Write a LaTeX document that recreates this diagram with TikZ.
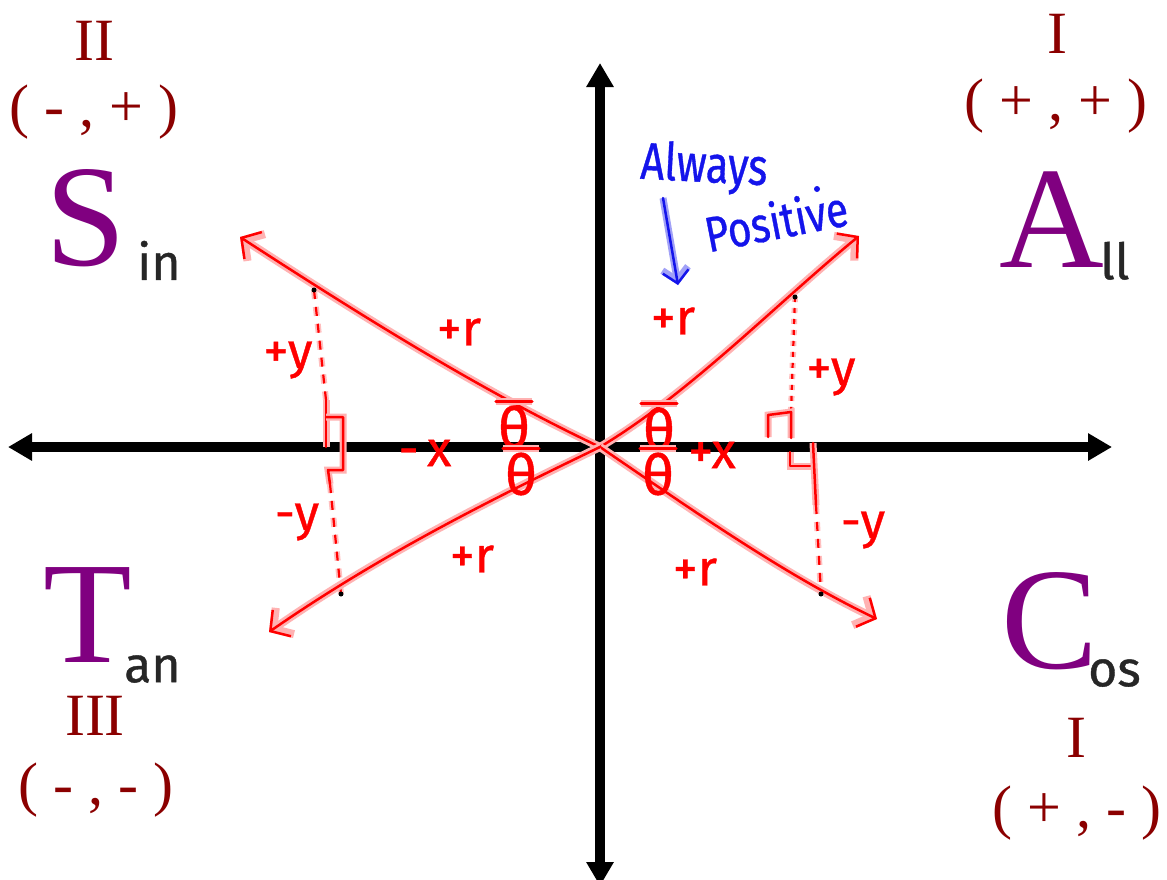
\documentclass[tikz,border=0pt]{standalone}
\usepackage{fontspec}
\setmainfont{Liberation Serif}
\newfontfamily\hand[FakeBold=0.8]{Fira Sans}
\usetikzlibrary{arrows.meta}
\definecolor{dred}{RGB}{139,0,0}
\definecolor{purp}{RGB}{128,0,128}
\definecolor{pblue}{RGB}{20,20,235}
\tikzset{
  quad/.style={text=dred, font=\fontsize{60}{60}\selectfont, inner sep=0, anchor=base},
  big/.style={text=purp, font=\fontsize{145}{145}\selectfont, inner sep=0, anchor=base},
  sub/.style={text=black!85, font=\hand\fontsize{50}{50}\selectfont, inner sep=0},
  lab/.style={text=red, font=\hand\fontsize{50}{50}\selectfont, inner sep=0},
  thl/.style={text=red, font=\hand\fontsize{56}{56}\selectfont, inner sep=0},
  blab/.style={text=pblue, font=\hand\fontsize{52}{52}\selectfont, inner sep=0},
  axis/.style={line width=9.5pt, {Triangle[length=24pt,width=26pt]}-{Triangle[length=24pt,width=26pt]}},
  ray/.style={draw=red, line width=2.5pt, line cap=round, line join=round,
    preaction={draw=red!30, line width=8pt},
    -{Straight Barb[length=14pt,width=32pt]}},
  redmark/.style={draw=red, line width=2.5pt, line cap=round, line join=round,
    preaction={draw=red!30, line width=7pt}},
  dashline/.style={draw=red, line width=2.2pt, dash pattern=on 9pt off 8pt,
    preaction={draw=red!25, line width=6pt, dash pattern=on 9pt off 8pt}},
  dotline/.style={draw=red, line width=2.2pt, dash pattern=on 5pt off 6pt,
    preaction={draw=red!25, line width=6pt, dash pattern=on 5pt off 6pt}},
  dotpt/.style={circle, fill=black, inner sep=0, minimum size=5pt},
}
\begin{document}
\begin{tikzpicture}[x=1pt, y=-1pt]
\useasboundingbox[fill=white] (0,0) rectangle (1167,879);

% axes
\coordinate (O) at (600,447);
\coordinate (xl) at (8,447);
\coordinate (xr) at (1112,447);
\coordinate (yt) at (600,63);
\coordinate (yb) at (600,886);
\draw[axis] (xl) -- (xr);
\draw[axis] (yb) -- (yt);

% quadrant labels
\node[quad] (q2) at (94,60) {II};
\node[quad] (q2s) at (94,126) {( - , + )};
\node[big] (S) at (86,265) {S};
\node[sub, anchor=south west] (Ssub) at (137,280) {in};

\node[quad] (q1) at (1057,53) {I};
\node[quad] (q1s) at (1056,120) {( + , + )};
\node[big] (A) at (1052,267) {A};
\node[sub, anchor=south west] (Asub) at (1100,280) {ll};

\node[big] (T) at (88,662) {T};
\node[sub, anchor=south west] (Tsub) at (124,683) {an};
\node[quad] (q3) at (95,735) {III};
\node[quad] (q3s) at (96,804) {( - , - )};

\node[big] (C) at (1050,668) {C};
\node[sub, anchor=south west] (Csub) at (1088,687) {os};
\node[quad] (q4) at (1076,757) {I};
\node[quad] (q4s) at (1077,827) {( + , - )};

% dashed legs (below rays)
\coordinate (dUL) at (314,290);
\coordinate (dLL) at (341,594);
\coordinate (dUR) at (795,297);
\coordinate (dLR) at (821,594);
\coordinate (mL1) at (326,400);
\coordinate (mL2) at (330,484);
\coordinate (mR1) at (791,412);
\coordinate (mR2) at (816,505);
\draw[dashline] (dUL) -- (mL1);
\draw[dashline] (mL2) -- (dLL);
\draw[dotline] (dUR) -- (mR1);
\draw[dashline] (mR2) -- (dLR);

% right-angle marks
\draw[redmark] (mL1) -- (326,447);
\draw[redmark] (326,417) -- (343,417) -- (343,470) -- (328,470) -- (mL2);
\draw[redmark] (768,437) -- (768,415) -- (mR1) -- (791,438);
\draw[redmark] (790,452) -- (790,466) -- (813,466);
\draw[redmark] (813,443) -- (mR2);

% rays
\coordinate (UL) at (240,237);
\coordinate (UR) at (859,236);
\coordinate (LR) at (877,619);
\coordinate (LL) at (269,632);
\draw[ray] (O) .. controls (480,390) and (365,318) .. (UL);
\draw[ray] (O) .. controls (690,393) and (775,305) .. (UR);
\draw[ray] (O) .. controls (695,512) and (785,575) .. (LR);
\draw[ray] (O) .. controls (490,500) and (380,555) .. (LL);

% dots
\node[dotpt] (p1) at (dUL) {};
\node[dotpt] (p2) at (dLL) {};
\node[dotpt] (p3) at (dUR) {};
\node[dotpt] (p4) at (dLR) {};

% red labels
\node[lab] (r1) at (459,332) {+r};
\node[lab] (r2) at (673,321) {+r};
\node[lab] (r3) at (472,559) {+r};
\node[lab] (r4) at (695,572) {+r};
\node[lab] (y1) at (288,360) {+y};
\node[lab] (y2) at (297,522) {-y};
\node[lab] (y3) at (831,377) {+y};
\node[lab] (y4) at (863,530) {-y};
\node[lab] (x1) at (425,453) {-\,x};
\node[lab] (x2) at (712,455) {+x};

\node[thl] (t1) at (514,427) {θ};
\node[thl] (t2) at (521,474) {θ};
\node[thl] (t3) at (659,429) {θ};
\node[thl] (t4) at (658,474) {θ};
\foreach \t in {t1,t2,t3,t4}
  \draw[redmark] ([yshift=4pt,xshift=-2pt]\t.north west) -- ([yshift=4pt,xshift=2pt]\t.north east);

% blue note
\node[blab, rotate=-3] (al) at (704,168) {\scalebox{0.8}[1]{Always}};
\node[blab, rotate=11] (po) at (776,220) {\scalebox{0.78}[0.95]{Positive}};
\coordinate (ba1) at (663,198);
\coordinate (ba2) at (678,285);
\draw[draw=pblue, line width=2.5pt, line cap=round, preaction={draw=pblue!40, line width=7pt},
  -{Straight Barb[length=12pt,width=26pt]}] (ba1) -- (ba2);
\node[circle, fill=pblue, inner sep=0, minimum size=6pt] (bd) at (817,189) {};
\end{tikzpicture}
\end{document}
